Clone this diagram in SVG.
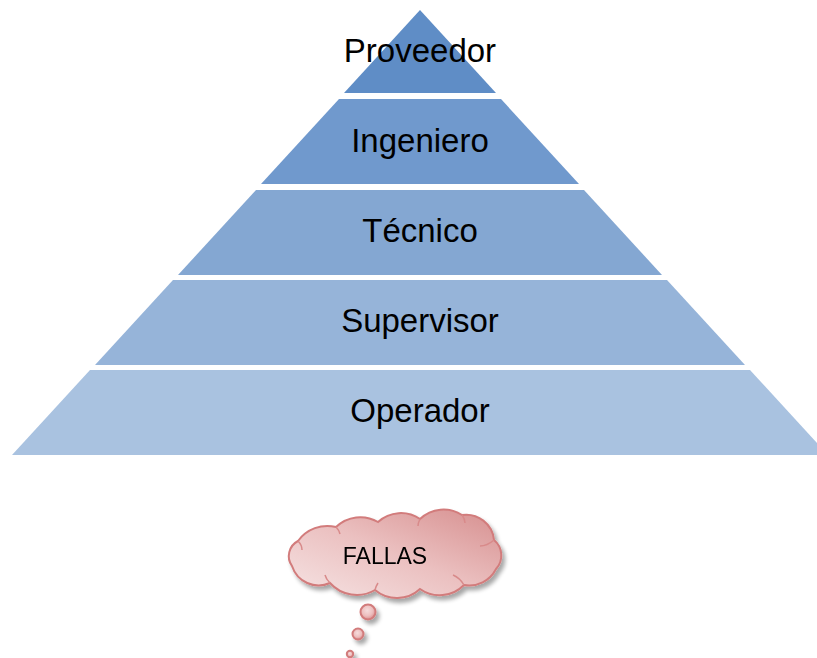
<svg xmlns="http://www.w3.org/2000/svg" width="817" height="658" viewBox="0 0 817 658">
<style>
.lbl{font-family:"Liberation Sans",Arial,sans-serif;font-size:33px;fill:#000;text-anchor:middle}
.cl{font-family:"Liberation Sans",Arial,sans-serif;font-size:23px;fill:#000;text-anchor:middle}
.cs{stroke:#D27C7C;stroke-width:2}
.inner{fill:none;stroke:#D88A8A;stroke-width:1.5}
</style>
<defs>
<linearGradient id="cg" x1="0" y1="1" x2="1" y2="0">
<stop offset="0" stop-color="#F6E4E4"/>
<stop offset="0.5" stop-color="#EBC0C0"/>
<stop offset="1" stop-color="#D68E8E"/>
</linearGradient>
<radialGradient id="bg" cx="0.45" cy="0.4" r="0.6">
<stop offset="0" stop-color="#F6DCDC"/>
<stop offset="0.6" stop-color="#EDBFBF"/>
<stop offset="1" stop-color="#DC8F8F"/>
</radialGradient>
<filter id="sh" x="-20%" y="-20%" width="140%" height="150%">
<feGaussianBlur in="SourceAlpha" stdDeviation="2"/>
<feOffset dx="3" dy="4" result="o"/>
<feComponentTransfer><feFuncA type="linear" slope="0.35"/></feComponentTransfer>
<feMerge><feMergeNode/><feMergeNode in="SourceGraphic"/></feMerge>
</filter>
</defs>
<g id="proveedor">
<polygon points="420,10 496,93 344,93" fill="#5F8DC6"/>
<text class="lbl" x="420" y="62">Proveedor</text>
</g>
<g id="ingeniero">
<polygon points="339,99 501,99 579,184 261,184" fill="#7099CD"/>
<text class="lbl" x="420" y="152">Ingeniero</text>
</g>
<g id="tecnico">
<polygon points="256,190 584,190 662,275 178,275" fill="#84A7D2"/>
<text class="lbl" x="420" y="242">Técnico</text>
</g>
<g id="supervisor">
<polygon points="173,280 667,280 745,365 95,365" fill="#96B4D9"/>
<text class="lbl" x="420" y="332">Supervisor</text>
</g>
<g id="operador">
<polygon points="90,370 750,370 828,455 12,455" fill="#A9C2E0"/>
<text class="lbl" x="420" y="422">Operador</text>
</g>
<g id="fallas" filter="url(#sh)">
<path class="cs" d="M292,566 A17,17 0 0 1 298,541 A36,36 0 0 1 336,527 A35,35 0 0 1 378,522 A34,34 0 0 1 420,519 A34,34 0 0 1 462,515 A28,28 0 0 1 494,540 A20,20 0 0 1 496,569 A30,30 0 0 1 464,585 A34,34 0 0 1 420,589 A34,34 0 0 1 375,590 A36,36 0 0 1 330,583 A28,28 0 0 1 292,566 Z" style="fill:url(#cg)"/>
<path class="inner" d="M298,541 Q302,545 302,550"/>
<path class="inner" d="M336,527 Q339,530 340,534"/>
<path class="inner" d="M420,519 Q418,523 418,526"/>
<path class="inner" d="M462,515 Q465,519 465,523"/>
<path class="inner" d="M494,540 Q487,546 480,546"/>
<path class="inner" d="M464,585 Q460,578 453,575"/>
<path class="inner" d="M375,590 Q376,586 378,583"/>
<path class="inner" d="M330,583 Q326,579 325,575"/>
<text class="cl" x="385" y="564">FALLAS</text>
<circle class="cs" fill="url(#bg)" cx="368" cy="612" r="7.5"/>
<circle class="cs" fill="url(#bg)" cx="358" cy="634" r="5.5"/>
<circle class="cs" fill="url(#bg)" cx="350" cy="654" r="3.2"/>
</g>
</svg>
